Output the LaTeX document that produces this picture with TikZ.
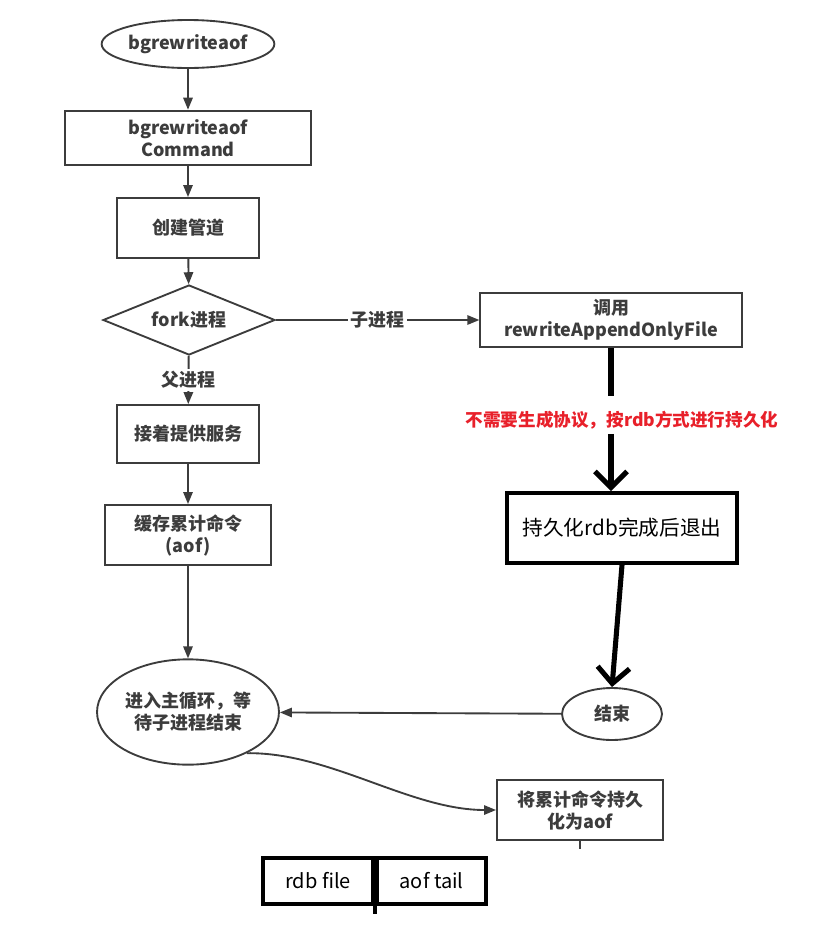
\documentclass[tikz,border=0pt]{standalone}
\usepackage{fontspec}
\setmainfont{Noto Sans CJK SC}
\usepackage{xcolor}
\usepackage{tikz}
\usetikzlibrary{arrows.meta,positioning,shapes.geometric}

\definecolor{flowgray}{HTML}{3C3C3C}
\definecolor{notered}{HTML}{E8202A}

\begin{document}
\begin{tikzpicture}[
    x=0.75pt, y=-0.75pt,
    font=\fontsize{13.5}{16.5}\selectfont\bfseries,
    every node/.style = {align=center, text=flowgray},
    proc/.style   = {draw=flowgray, rectangle, line width=1.4pt, fill=white,
                     inner sep=2pt},
    term/.style   = {draw=flowgray, ellipse, line width=1.4pt, fill=white,
                     inner sep=1pt},
    cond/.style   = {draw=flowgray, diamond, line width=1.4pt, fill=white,
                     inner sep=0pt, aspect=2.46},
    hand/.style   = {draw=black, rectangle, line width=3pt, text=black,
                     font=\fontsize{15.5}{18}\selectfont, inner sep=2pt},
    arr/.style    = {-{Triangle[length=9pt,width=7pt]}, draw=flowgray, line width=1.4pt},
    bold/.style   = {black, line width=3.8pt},
    boldarr/.style = {bold, -{Straight Barb[length=12pt,width=24pt]}},
    lbl/.style    = {fill=white, inner sep=2pt},
]
\useasboundingbox (0,0) rectangle (834,926);

% ---------------- Main process ----------------
\node[term, minimum width=120pt, minimum height=36pt] (start) at (188,44) {bgrewriteaof};
\node[proc, minimum width=185pt, minimum height=41pt] (cmd) at (188,138) {bgrewriteaof\\Command};
\node[proc, minimum width=107pt, minimum height=45pt] (pipe) at (188,228) {创建管道};
\node[cond, minimum width=129pt, minimum height=52.5pt] (fork) at (189,320) {fork进程};
\node[proc, minimum width=107pt, minimum height=43.5pt] (serve) at (188,434) {接着提供服务};
\node[proc, minimum width=125pt, minimum height=45pt] (cache) at (188,535) {缓存累计命令\\(aof)};
\node[term, minimum width=127pt, minimum height=79pt] (loop) at (188,712) {进入主循环，等\\待子进程结束};

% ---------------- Child process ----------------
\node[proc, minimum width=196pt, minimum height=41pt] (call) at (611,320) {调用\\rewriteAppendOnlyFile};
\node[text=notered, font=\fontsize{13.2}{15}\selectfont\bfseries] (note) at (622,420) {不需要生成协议，按rdb方式进行持久化};
\node[hand, minimum width=172.5pt, minimum height=52.5pt] (persist) at (622,528) {持久化rdb完成后退出};
\node[term, minimum width=75pt, minimum height=39pt] (end) at (612,714) {结束};
\node[proc, minimum width=124.5pt, minimum height=45pt] (flush) at (580,810) {将累计命令持久\\化为aof};

% ---------------- File layout ----------------
\node[hand, font=\fontsize{15}{18}\selectfont, minimum width=82.5pt, minimum height=35pt] (rdb) at (318,881) {rdb file};
\node[hand, font=\fontsize{15}{18}\selectfont, minimum width=82pt, minimum height=35pt, right=0pt of rdb] (tail) {aof tail};

% ---------------- Arrows ----------------
\draw[arr] (start) -- (cmd);
\draw[arr] (cmd) -- (pipe);
\draw[arr] (pipe) -- (fork);
\draw[arr] (fork) -- (call)
    node[lbl, midway]{子进程};
\draw[arr] (fork) -- (serve)
    node[lbl, midway]{父进程};
\draw[arr] (serve) -- (cache);
\draw[arr] (cache) -- (loop);
\draw[arr] (end) -- (loop);
\draw[arr] (loop.-35) .. controls (330,752) and (410,810) .. (flush.west);
\draw[flowgray, line width=1pt] (flush.south) -- ++(0,8);

\draw[bold] (call.south) -- ++(0,48);
\draw[boldarr] (note.south -| call.south) -- (persist.north -| call.south);
\draw[boldarr] (persist.south) -- (end.north);
\draw[bold, line width=3pt] (rdb.south east) -- ++(0,8);

\end{tikzpicture}
\end{document}
